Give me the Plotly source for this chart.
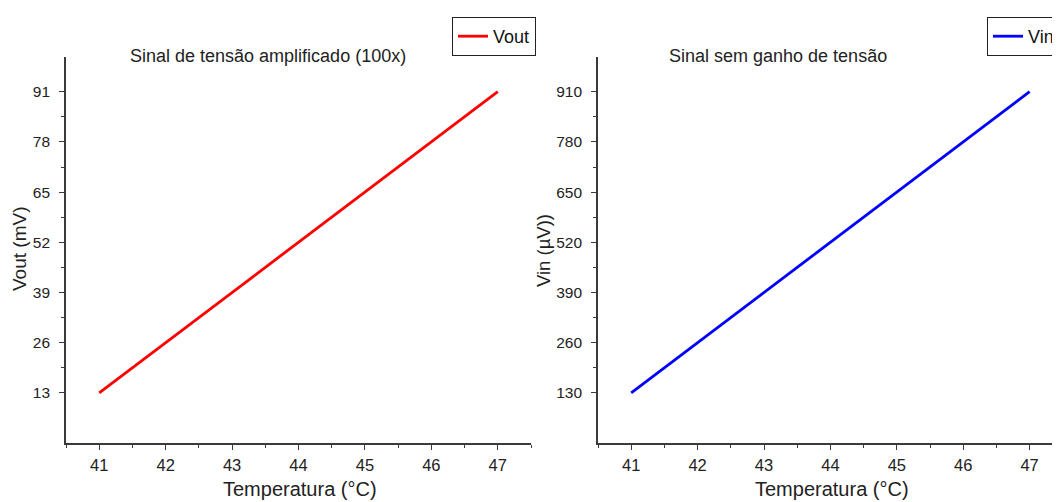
import plotly.graph_objects as go

# ---- data ----
temperatura = [41, 42, 43, 44, 45, 46, 47]
vout_mV = [13, 26, 39, 52, 65, 78, 91]
vin_uV = [130, 260, 390, 520, 650, 780, 910]

vout_ticks = [13, 26, 39, 52, 65, 78, 91]
vin_ticks = [130, 260, 390, 520, 650, 780, 910]
x_ticks = [41, 42, 43, 44, 45, 46, 47]

title_left = "Sinal de tensão amplificado (100x)"
title_right = "Sinal sem ganho de tensão"
xlabel = "Temperatura (°C)"
ylabel_left = "Vout (mV)"
ylabel_right = "Vin (µV))"

# page body has an 8px margin, so the figure is drawn 8px in from the window corner
OFF = 8
W, H = 1060 - OFF, 502 - OFF
FONT = "Liberation Sans, Arial, sans-serif"
AX = "#3a3a3a"

def px(x):
    return (x - OFF) / W

def py(y):
    return (H - (y - OFF)) / H

def mids(v):
    return [(a + b) / 2 for a, b in zip(v[:-1], v[1:])]

fig = go.Figure()
fig.add_trace(go.Scatter(x=temperatura, y=vout_mV, mode="lines", name="Vout",
                         line=dict(color="#ff0000", width=2.8),
                         xaxis="x", yaxis="y", legend="legend"))
fig.add_trace(go.Scatter(x=temperatura, y=vin_uV, mode="lines", name="Vin",
                         line=dict(color="#0000ff", width=2.8),
                         xaxis="x2", yaxis="y2", legend="legend2"))

def xaxis(domain, rng, anchor):
    return dict(domain=domain, range=rng, tickvals=x_ticks, anchor=anchor,
                showline=True, linecolor=AX, linewidth=1.6,
                ticks="outside", ticklen=5, tickwidth=1.3, tickcolor=AX,
                ticklabelstandoff=1,
                showgrid=False, zeroline=False,
                tickfont=dict(family=FONT, size=16.5, color="#222"),
                minor=dict(ticks="outside", ticklen=3, tickcolor=AX,
                           tick0=40.5, dtick=1, showgrid=False))

def yaxis(domain, rng, tv, anchor):
    return dict(domain=domain, range=rng, tickvals=tv, anchor=anchor,
                showline=True, linecolor=AX, linewidth=1.6,
                ticks="outside", ticklen=5, tickwidth=1.3, tickcolor=AX,
                ticklabelstandoff=6,
                showgrid=False, zeroline=False,
                tickfont=dict(family=FONT, size=15.5, color="#222"),
                minor=dict(ticks="outside", ticklen=3, tickcolor=AX,
                           tickvals=mids(tv), showgrid=False))

ydom = [py(443), py(57)]
legend_style = dict(yanchor="top", xanchor="left", y=py(17),
                    bordercolor="#222", borderwidth=1, bgcolor="white",
                    font=dict(family=FONT, size=18, color="#111"),
                    tracegroupgap=0, itemwidth=30)
fig.update_layout(
    width=W, height=H,
    margin=dict(l=0, r=0, t=0, b=0, autoexpand=False),
    paper_bgcolor="white", plot_bgcolor="white",
    font=dict(family=FONT, color="#222"),
    xaxis=xaxis([px(66), px(531)], [40.5, 47.5], "y"),
    yaxis=yaxis(ydom, [0, 100], vout_ticks, "x"),
    xaxis2=xaxis([px(598), 1.0], [40.5, 40.5 + 462 / 66.4], "y2"),
    yaxis2=yaxis(ydom, [0, 1000], vin_ticks, "x2"),
    legend=dict(x=px(452), **legend_style),
    legend2=dict(x=px(987), **legend_style),
    showlegend=True,
)

ann = [
    dict(text=title_left, x=268, y=56, size=18, angle=0),
    dict(text=title_right, x=778, y=56, size=18, angle=0),
    dict(text=xlabel, x=300, y=489, size=20, angle=0),
    dict(text=xlabel, x=832, y=489, size=20, angle=0),
    dict(text=ylabel_left, x=19, y=249, size=19, angle=-90),
    dict(text=ylabel_right, x=543, y=251, size=18.5, angle=-90),
]
for a in ann:
    fig.add_annotation(text=a["text"], x=px(a["x"]), y=py(a["y"]), xref="paper", yref="paper",
                       xanchor="center", yanchor="middle", showarrow=False,
                       textangle=a["angle"],
                       font=dict(family=FONT, size=a["size"], color="#222"))

fig.write_html("out.html")
